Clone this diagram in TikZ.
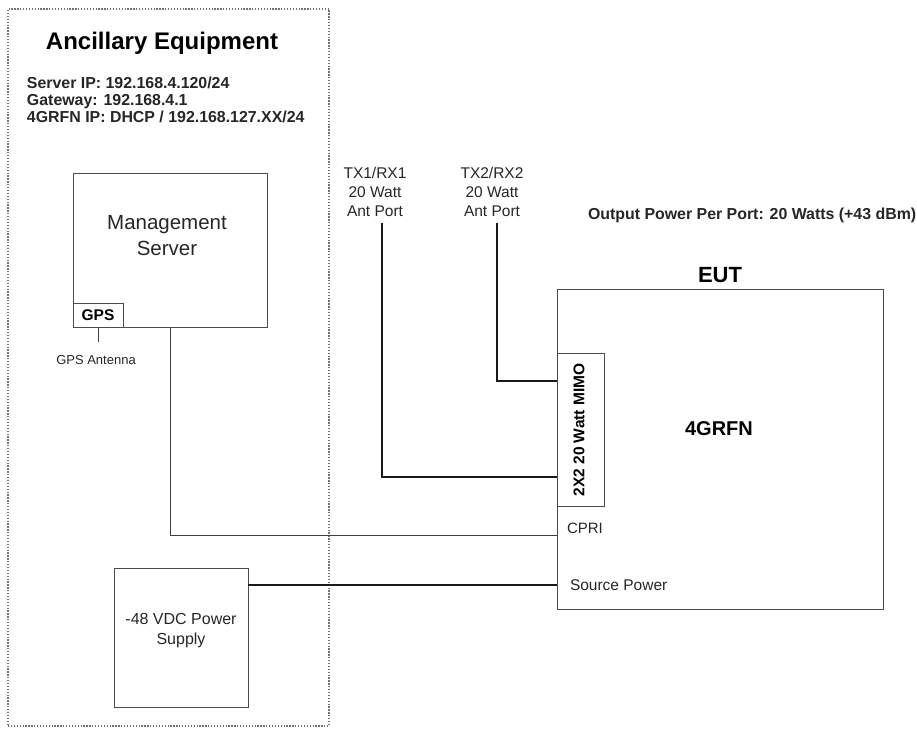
\documentclass[tikz,border=0pt]{standalone}
\usepackage{fontspec}
\setmainfont{Liberation Sans}
\usepackage{tikz}
\usetikzlibrary{positioning, calc}

\begin{document}
\begin{tikzpicture}[
    x=1pt, y=-1pt,
    % 基础样式定义
    every node/.style={inner sep=0pt, outer sep=0pt, text=black!85},
    % 设备方框
    box/.style={draw=black!70, line width=0.9pt},
    % 虚线框（辅助设备）
    frame/.style={draw=black!55, line width=1.3pt, dash pattern=on 1.3pt off 1.6pt},
    % 文字样式
    plain/.style={font=\fontsize{15.5}{19}\selectfont, align=center},
    heavy/.style={font=\bfseries\fontsize{15.9}{17}\selectfont, align=left},
    % 连线
    cable/.style={draw=black!90, line width=2.6pt},
    wire/.style={draw=black!75, line width=0.9pt}
]
\useasboundingbox (0,0) rectangle (917,729);

% 辅助设备区域
\node[frame, minimum width=321, minimum height=717] (anc) at (168.5,367.5) {};
\node[font=\bfseries\fontsize{24}{26}\selectfont, text=black] (anctitle) at (162,43) {Ancillary Equipment};
\node[heavy, anchor=west] (ipinfo) at (27,100) {Server IP: 192.168.4.120/24\\Gateway: 192.168.4.1\\4GRFN IP: DHCP / 192.168.127.XX/24};

% 管理服务器
\node[box, minimum width=194, minimum height=154] (server) at (170,250) {};
\node[plain, font=\fontsize{20.5}{26}\selectfont] (srvtext) at (167,236) {Management\\Server};
\node[box, anchor=south west, minimum width=50, minimum height=24,
      font=\bfseries\fontsize{15.5}{17}\selectfont, text=black] (gps) at (server.south west) {GPS};
\node[font=\fontsize{13}{15}\selectfont] (gpsant) at (96,360) {GPS Antenna};
\coordinate (gpsend) at (gps.south |- 0,342);
\draw[wire] (gps.south) -- (gpsend);

% 电源
\node[box, minimum width=134, minimum height=139] (psu) at (181,637.5) {};
\node[plain, font=\fontsize{16}{20}\selectfont] (psutext) at (181,631) {-48 VDC Power\\Supply};

% 被测设备
\node[font=\bfseries\fontsize{22}{24}\selectfont, text=black] (euttitle) at (720,275) {EUT};
\node[box, minimum width=326, minimum height=320] (eut) at (720,449) {};
\node[font=\bfseries\fontsize{20}{22}\selectfont, text=black] (rfn) at (719,429) {4GRFN};
\node[box, minimum width=47, minimum height=153] (mimo) at (580.5,429.5) {};
\node[rotate=90, font=\bfseries\fontsize{15.5}{17}\selectfont, text=black] (mimotext) at (579,430) {2X2 20 Watt MIMO};
\node[plain, anchor=west, font=\fontsize{15}{17}\selectfont] (cprilbl) at (567,528) {CPRI};
\node[plain, anchor=west, font=\fontsize{15.5}{17}\selectfont] (pwrlbl) at (570,585) {Source Power};
\node[font=\bfseries\fontsize{15.9}{17}\selectfont, anchor=west] (outpwr) at (588,215) {Output Power Per Port: 20 Watts (+43 dBm)};

% 天线端口
\node[plain] (port1) at (375,192) {TX1/RX1\\20 Watt\\Ant Port};
\node[plain] (port2) at (492,192) {TX2/RX2\\20 Watt\\Ant Port};

% 连线端点
\coordinate (tx1) at (382,223);
\coordinate (tx2) at (497,223);
\coordinate (rf1) at (557,477);
\coordinate (rf2) at (557,381);
\coordinate (cpri) at (557,535);
\coordinate (srcpwr) at (557,585);
\coordinate (srvout) at (170,327);

\draw[cable] (tx1) |- (rf1);
\draw[cable] (tx2) |- (rf2);
\draw[wire] (srvout) |- (cpri);
\draw[cable] (psu.east |- srcpwr) -- (srcpwr);

\end{tikzpicture}
\end{document}
